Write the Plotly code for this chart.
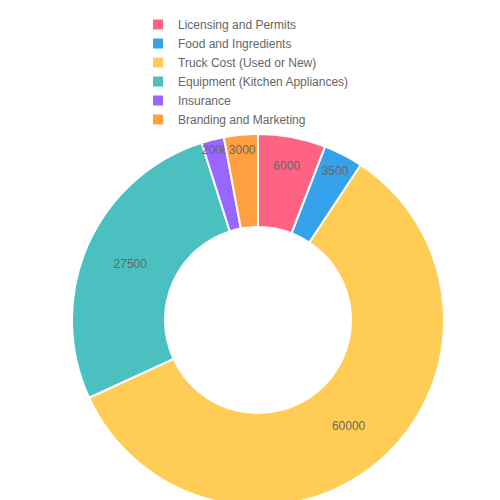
import plotly.graph_objects as go

labels = ["Licensing and Permits", "Food and Ingredients", "Truck Cost (Used or New)",
          "Equipment (Kitchen Appliances)", "Insurance", "Branding and Marketing"]
values = [6000, 3500, 60000, 27500, 2000, 3000]
colors = ["#FF6384", "#36A2EB", "#FFCD56", "#4BC0C0", "#9966FF", "#FF9F40"]

fig = go.Figure(go.Pie(
    labels=labels, values=values, hole=0.5, sort=False, direction="clockwise",
    rotation=0, marker=dict(colors=colors, line=dict(color="white", width=2)),
    text=[str(v) for v in values], textinfo="text", textposition="inside",
    insidetextorientation="horizontal",
    textfont=dict(size=12, color="#666", family="Arial"),
))
fig.update_layout(
    width=500, height=500, margin=dict(l=39, r=39, t=80, b=2),
    paper_bgcolor="white", font=dict(family="Arial", color="#666", size=12),
    legend=dict(orientation="h", x=0.5, xanchor="center", y=1.0, yanchor="bottom",
                entrywidth=195, entrywidthmode="pixels", tracegroupgap=0,
                font=dict(size=12, color="#666")),
    uniformtext=dict(minsize=10, mode="show"),
)
fig.write_html("out.html")
